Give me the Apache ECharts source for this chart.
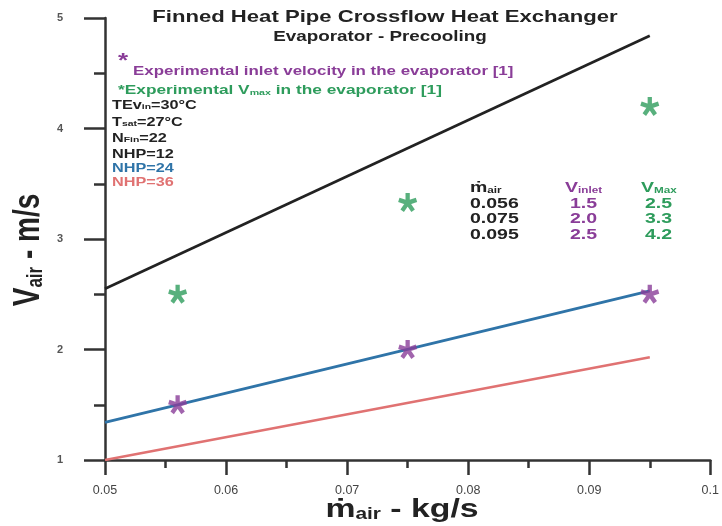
<!DOCTYPE html>
<html><head><meta charset="utf-8">
<script src="https://cdn.jsdelivr.net/npm/echarts@6/dist/echarts.min.js"></script>
<style>html,body{margin:0;padding:0;background:#fff}#c{width:722px;height:526px}</style>
</head><body><div id="c"></div>
<script>
// ---- data ----
const xTicks = [0.05, 0.06, 0.07, 0.08, 0.09, 0.1];
const yTicks = [1, 2, 3, 4, 5];
const lineNHP12 = [[0.05, 2.55], [0.095, 4.84]];
const lineNHP24 = [[0.05, 1.34], [0.095, 2.53]];
const lineNHP36 = [[0.05, 1.00], [0.095, 1.93]];
const expMass = [0.056, 0.075, 0.095];
const expInlet = [1.5, 2.0, 2.5];
const expMax = [2.5, 3.33, 4.2];
const tableMass = ['0.056', '0.075', '0.095'];
const tableInlet = ['1.5', '2.0', '2.5'];
const tableMax = ['2.5', '3.3', '4.2'];

const FF = '"Liberation Sans", Arial, sans-serif';
const PURPLE = '#8a3d98';
const GREEN = '#2e9c5c';
const BLUE = '#2f74a8';
const RED = '#e07272';
const BLACK = '#222222';
const AST = 'path://M7.7 11.5L7.7 0L12.3 0L12.3 11.5Z M7.862 8.277L18.799 4.723L20.221 9.097L9.284 12.651Z M10.979 7.434L17.741 16.738L14.019 19.442L7.257 10.138Z M12.743 10.138L5.981 19.442L2.259 16.738L9.021 7.434Z M10.716 12.651L-0.221 9.097L1.201 4.723L12.138 8.277Z';

const chart = echarts.init(document.getElementById('c'), null, {renderer: 'canvas'});

function txt(x, y, text, size, color, opts) {
  return Object.assign({
    type: 'text', x: x, y: y, scaleX: 1.3,
    style: Object.assign({
      text: text, fontFamily: FF, fontWeight: 'bold', fontSize: size, fill: color,
      align: 'left', verticalAlign: 'middle'
    }, (opts && opts.style) || {})
  }, (opts && opts.el) || {});
}
function subRich(size, color) {
  return {
    m: {fontFamily: FF, fontWeight: 'bold', fontSize: size, fill: color, lineHeight: size, verticalAlign: 'top'},
    s: {fontFamily: FF, fontWeight: 'bold', fontSize: Math.round(size * 0.6), fill: color, lineHeight: Math.round(size * 0.6), verticalAlign: 'bottom', padding: [Math.round(size * 0.62), 0, 0, 0]}
  };
}

const graphics = [
  txt(385, 17, 'Finned Heat Pipe Crossflow Heat Exchanger', 17, BLACK, {style: {align: 'center'}}),
  txt(380, 37, 'Evaporator - Precooling', 14.5, BLACK, {style: {align: 'center'}}),
  txt(118, 61, '*', 20, PURPLE),
  txt(133, 71, 'Experimental inlet velocity in the evaporator [1]', 13, PURPLE, {style: {}}),
  {type: 'text', x: 118, y: 90, scaleX: 1.33, style: {text: '{m|*Experimental V}{s|max}{m| in the evaporator [1]}', rich: subRich(13, GREEN), verticalAlign: 'middle', align: 'left'}},
  {type: 'text', x: 112, y: 105, scaleX: 1.3, style: {text: '{m|TEv}{s|in}{m|=30\u00b0C}', rich: subRich(12.5, BLACK), verticalAlign: 'middle', align: 'left'}},
  {type: 'text', x: 112, y: 122, scaleX: 1.3, style: {text: '{m|T}{s|sat}{m|=27\u00b0C}', rich: subRich(12.5, BLACK), verticalAlign: 'middle', align: 'left'}},
  {type: 'text', x: 112, y: 138, scaleX: 1.3, style: {text: '{m|N}{s|Fin}{m|=22}', rich: subRich(12.5, BLACK), verticalAlign: 'middle', align: 'left'}},
  txt(112, 155, 'NHP=12', 12.5, BLACK),
  txt(112, 169, 'NHP=24', 12.5, BLUE),
  txt(112, 183, 'NHP=36', 12.5, RED),
  // table
  {type: 'text', x: 470, y: 188, scaleX: 1.3, style: {text: '{m|\u1e41}{s|air}', rich: subRich(15, BLACK), verticalAlign: 'middle', align: 'left'}},
  {type: 'text', x: 565, y: 188, scaleX: 1.3, style: {text: '{m|V}{s|inlet}', rich: subRich(15, PURPLE), verticalAlign: 'middle', align: 'left'}},
  {type: 'text', x: 641, y: 188, scaleX: 1.3, style: {text: '{m|V}{s|Max}', rich: subRich(15, GREEN), verticalAlign: 'middle', align: 'left'}},
  // axis titles
  {type: 'text', x: 402, y: 510, scaleX: 1.3, style: {text: '{m|\u1e41}{s|air}{m| - kg/s}', rich: subRich(26, BLACK), verticalAlign: 'middle', align: 'center'}},
  {type: 'text', x: 29, y: 250, rotation: Math.PI / 2, scaleY: 1.3, style: {text: '{m|V}{s|air}{m| - m/s}', rich: subRich(28, BLACK), verticalAlign: 'middle', align: 'center'}}
];
const rowsY = [204, 219, 235];
for (let i = 0; i < tableMass.length; i++) {
  graphics.push(txt(470, rowsY[i], tableMass[i], 15, BLACK));
  graphics.push(txt(570, rowsY[i], tableInlet[i], 15, PURPLE));
  graphics.push(txt(645, rowsY[i], tableMax[i], 15, GREEN));
}

const option = {
  backgroundColor: '#ffffff',
  animation: false,
  grid: {left: 105, right: 10, top: 18, bottom: 66, containLabel: false},
  xAxis: {
    type: 'value', min: xTicks[0], max: xTicks[xTicks.length - 1], interval: 0.01,
    axisLine: {show: true, lineStyle: {color: '#333', width: 2.5}},
    axisTick: {show: true, length: 15, lineStyle: {color: '#333', width: 2.5}},
    minorTick: {show: true, splitNumber: 2, length: 8, lineStyle: {color: '#333', width: 2.5}},
    splitLine: {show: false},
    axisLabel: {margin: 24, fontFamily: FF, fontSize: 12.5, color: '#444', formatter: v => String(+v.toFixed(3))}
  },
  yAxis: {
    type: 'value', min: yTicks[0], max: yTicks[yTicks.length - 1], interval: 1,
    axisLine: {show: true, lineStyle: {color: '#333', width: 2.5}},
    axisTick: {show: true, length: 21, lineStyle: {color: '#333', width: 2.5}},
    minorTick: {show: true, splitNumber: 2, length: 11, lineStyle: {color: '#333', width: 2.5}},
    splitLine: {show: false},
    axisLabel: {margin: 42, fontFamily: FF, fontSize: 11, fontWeight: 'bold', color: '#555'}
  },
  graphic: graphics,
  series: [
    {type: 'line', data: lineNHP12, symbol: 'none', lineStyle: {color: BLACK, width: 2.7}, z: 3},
    {type: 'line', data: lineNHP24, symbol: 'none', lineStyle: {color: BLUE, width: 2.7}, z: 3},
    {type: 'line', data: lineNHP36, symbol: 'none', lineStyle: {color: RED, width: 2.5}, z: 3},
    {type: 'scatter', data: expMass.map((m, i) => [m, expInlet[i]]), symbol: AST, symbolSize: 19, itemStyle: {color: PURPLE}, z: 5},
    {type: 'scatter', data: expMass.map((m, i) => [m, expMax[i]]), symbol: AST, symbolSize: 19, itemStyle: {color: GREEN}, z: 5}
  ]
};
chart.setOption(option);
</script></body></html>
